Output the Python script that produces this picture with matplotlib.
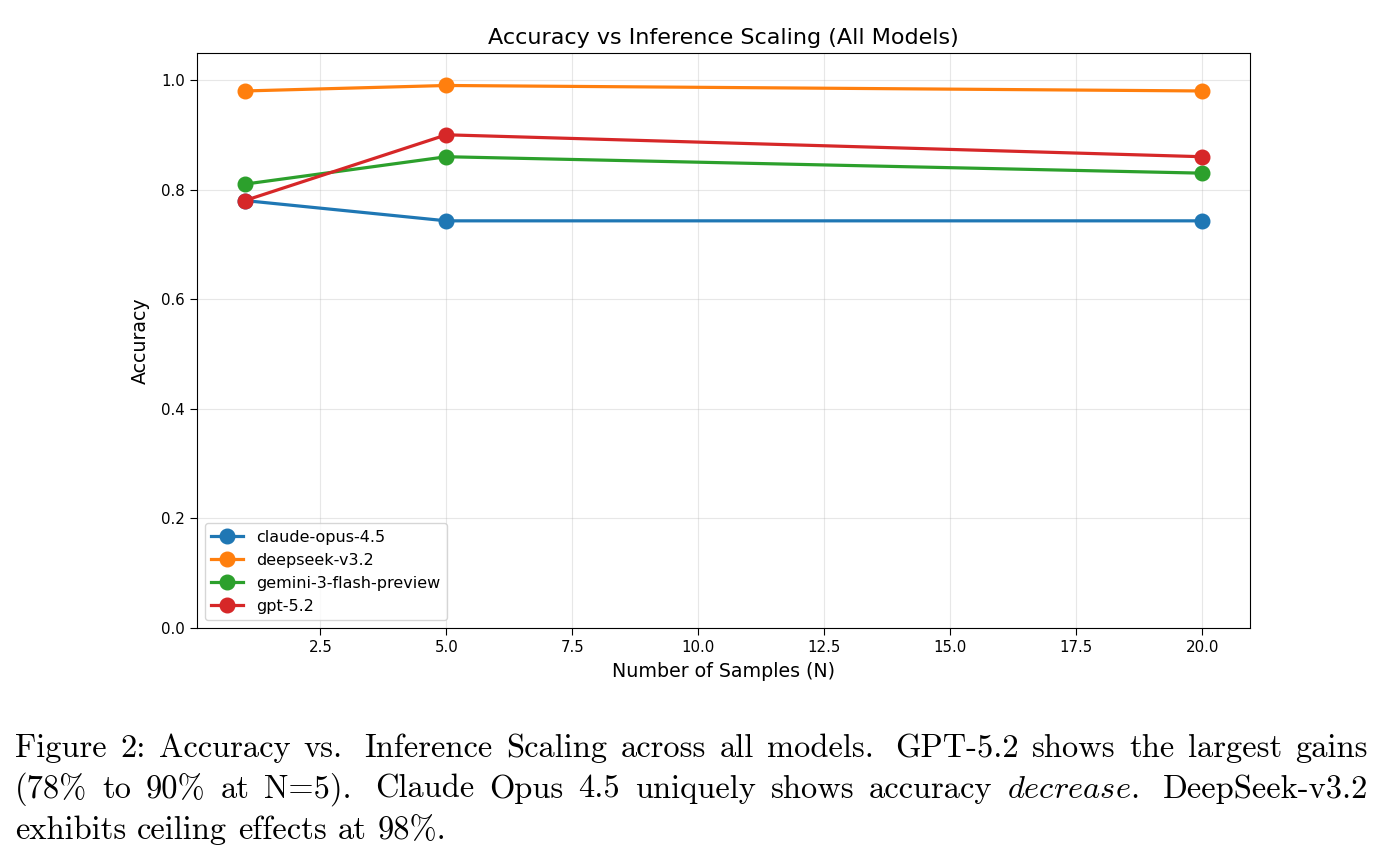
import matplotlib
matplotlib.use("Agg")
import matplotlib.pyplot as plt

# ---- data ----
samples = [1, 5, 20]
models = ["claude-opus-4.5", "deepseek-v3.2", "gemini-3-flash-preview", "gpt-5.2"]
acc_claude = [0.78, 0.743, 0.743]
acc_deepseek = [0.98, 0.99, 0.98]
acc_gemini = [0.81, 0.86, 0.83]
acc_gpt = [0.78, 0.90, 0.86]
series = [acc_claude, acc_deepseek, acc_gemini, acc_gpt]
colors = ["#1f77b4", "#ff7f0e", "#2ca02c", "#d62728"]

title = "Accuracy vs Inference Scaling (All Models)"
xlabel = "Number of Samples (N)"
ylabel = "Accuracy"

caption_lines = [
    "Figure 2: Accuracy vs. Inference Scaling across all models. GPT-5.2 shows the largest gains",
    r"(78% to 90% at N=5). Claude Opus 4.5 uniquely shows accuracy $\mathit{decrease}$. DeepSeek-v3.2",
    "exhibits ceiling effects at 98%.",
]

plt.rcParams["mathtext.fontset"] = "cm"
plt.rcParams["axes.formatter.use_mathtext"] = False

W, H = 1384, 861
fig = plt.figure(figsize=(W / 100, H / 100), dpi=100)
ax = fig.add_axes([197 / W, 1 - 628 / H, (1250 - 197) / W, (628 - 52.6) / H])

for name, vals, c in zip(models, series, colors):
    ax.plot(samples, vals, marker="o", color=c, linewidth=2.3, markersize=10.5, label=name)

ax.set_ylim(0, 1.05)
ax.set_title(title, fontsize=16, pad=6)
ax.set_xlabel(xlabel, fontsize=13.7, labelpad=5)
ax.set_ylabel(ylabel, fontsize=13.7, labelpad=8)
ax.tick_params(labelsize=10.8, length=5)
ax.grid(True, alpha=0.3)
ax.legend(loc="lower left", fontsize=11.5)

# ---- caption (justified like LaTeX) ----
renderer = fig.canvas.get_renderer()
fs = 23.4
left_px, right_px = 15, 1368
baselines = [757, 798, 839]

sp = fig.text(0, 0, "a a", fontsize=fs, family="cmr10")
wa = fig.text(0, 0, "aa", fontsize=fs, family="cmr10")
space_w = sp.get_window_extent(renderer).width - wa.get_window_extent(renderer).width
sp.remove()
wa.remove()

for li, line in enumerate(caption_lines):
    words = line.split(" ")
    texts = []
    widths = []
    for w in words:
        t = fig.text(0, 0, w, fontsize=fs, family="cmr10", va="baseline", ha="left",
                     transform=None)
        texts.append(t)
        widths.append(t.get_window_extent(renderer).width)
    weights = []
    for w in words[:-1]:
        if w.endswith("."):
            weights.append(1.6)
        else:
            weights.append(1.0)
    y = H - baselines[li]
    if li < 2:
        total = sum(widths)
        gap_unit = (right_px - left_px - total) / sum(weights)
    else:
        gap_unit = space_w
    x = left_px
    for i, t in enumerate(texts):
        t.set_position((x, y))
        x += widths[i]
        if i < len(weights):
            x += gap_unit * weights[i]

fig.savefig("out.png", dpi=100)
